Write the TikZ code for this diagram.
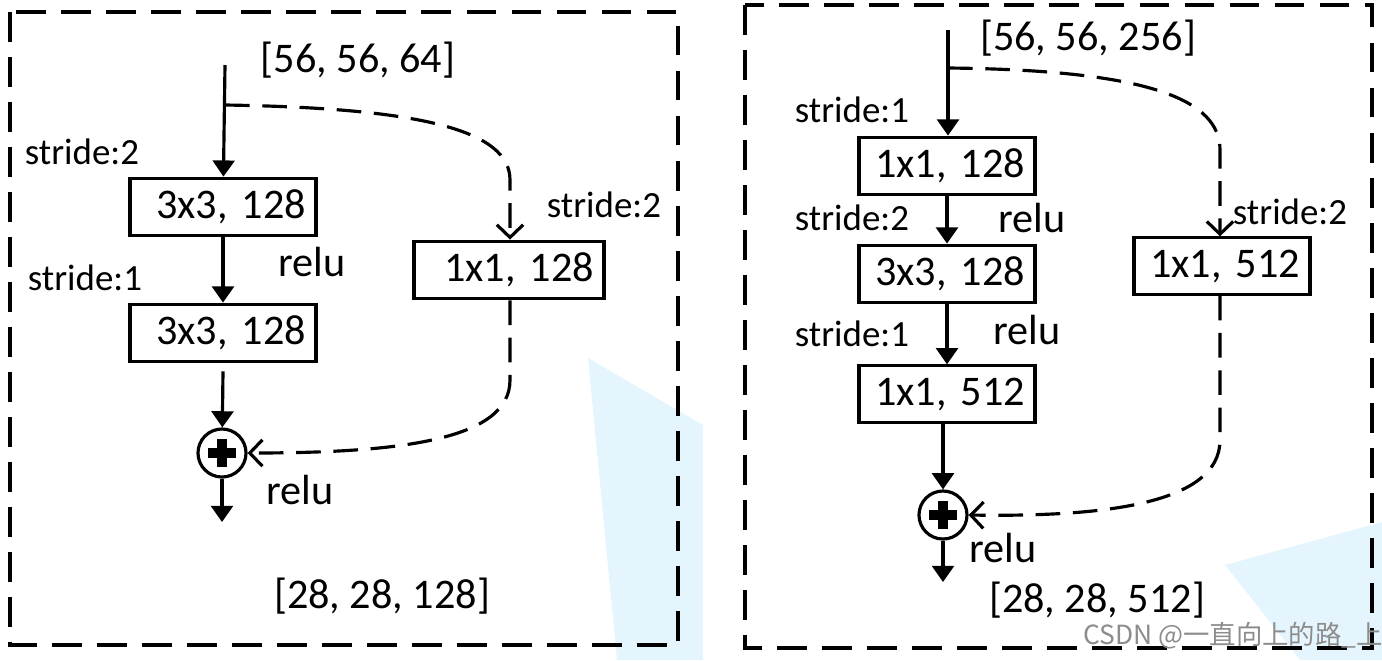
\documentclass[tikz,border=0pt]{standalone}
\usepackage{fontspec}
\setmainfont{Carlito}
\newfontfamily\cjkfont{Noto Sans CJK SC}
\usepackage{tikz}
\usetikzlibrary{arrows.meta,positioning,calc}
\definecolor{wmBlue}{RGB}{229,245,253}
\tikzset{
  layer/.style={rectangle, draw=black, line width=0.9pt, minimum height=5mm, inner xsep=1mm, align=right, font=\fontsize{12}{14}\selectfont},
  lbl/.style={font=\fontsize{12}{14}\selectfont, inner sep=0pt},
  slbl/.style={font=\fontsize{10.5}{12}\selectfont, inner sep=0pt},
  addop/.style={circle, draw=black, line width=0.9pt, minimum size=4.8mm, inner sep=0pt},
  frame/.style={line width=1pt, dash pattern=on 8.5pt off 4.3pt},
  arrow/.style={-{Triangle[length=4.6pt,width=6.2pt]}, line width=0.9pt},
  skip/.style={-{Straight Barb[length=3.6pt,width=7.5pt,line width=0.9pt]}, line width=0.9pt, dash pattern=on 7pt off 3.6pt}
}
\newcommand{\plusmark}[1]{%
  \draw[line width=2.6pt] ($(#1)+(-14,0)$) -- ($(#1)+(14,0)$);
  \draw[line width=2.6pt] ($(#1)+(0,-14)$) -- ($(#1)+(0,14)$);}

\begin{document}
\begin{tikzpicture}[x=0.01cm,y=-0.01cm]
  \useasboundingbox (0,0) rectangle (1382,660);
  % pale background shapes
  \fill[wmBlue] (588,358) -- (703,425) -- (703,660) -- (617,660) -- cycle;
  \fill[wmBlue] (1225,565) -- (1382,522) -- (1382,660) -- (1300,660) -- cycle;

  % left block
  \draw[frame] (10,12) rectangle (678,645);
  \node[lbl] (inL) at (358,60) {[56, 56, 64]};
  \coordinate (topL) at (225,65);
  \coordinate (splitL) at (225,105);
  \node[layer, text width=16.6mm] (convLa) at (223,207) {3x3, 128};
  \node[layer, text width=16.6mm, minimum height=5.3mm] (convLb) at (223,333) {3x3, 128};
  \node[layer, text width=17mm, minimum height=5.5mm] (scLa) at (509,270) {1x1, 128};
  \node[addop] (addL) at (222,453) {};
  \plusmark{addL.center}
  \coordinate (outL) at (222,522);
  \node[slbl] (sLa) at (82,152) {stride:2};
  \node[slbl] (sLb) at (85,278) {stride:1};
  \node[slbl] (sLc) at (604,205) {stride:2};
  \node[lbl] (rLa) at (312,262) {relu};
  \node[lbl] (rLb) at (300,490) {relu};
  \node[lbl] (outtxtL) at (382,596) {[28, 28, 128]};
  \draw[arrow] (topL) -- (convLa);
  \draw[arrow] (convLa) -- (convLb);
  \draw[arrow] (convLb.south) ++(0,8) -- (addL);
  \draw[arrow] (addL) -- (outL);
  \draw[skip] (splitL) .. controls (420,108) and (510,130) .. (510,180) -- (scLa.north -| 510,0);
  \draw[skip] (scLa.south -| 510,0) -- (510,380) .. controls (510,440) and (400,453) .. (addL.east);

  % right block
  \draw[frame] (745,5) rectangle (1372,648);
  \node[lbl] (inR) at (1088,38) {[56, 56, 256]};
  \coordinate (topR) at (948,30);
  \coordinate (splitR) at (948,68);
  \node[layer, text width=15.6mm, minimum height=5.2mm] (convRa) at (947,166) {1x1, 128};
  \node[layer, text width=15.6mm, minimum height=5.2mm] (convRb) at (947,274) {3x3, 128};
  \node[layer, text width=15.6mm, minimum height=5.2mm] (convRc) at (947,394) {1x1, 512};
  \node[layer, text width=15.6mm, minimum height=5.2mm] (scRa) at (1222,266) {1x1, 512};
  \node[addop] (addR) at (943,515) {};
  \plusmark{addR.center}
  \coordinate (outR) at (943,582);
  \node[slbl] (sRa) at (852,110) {stride:1};
  \node[slbl] (sRb) at (852,218) {stride:2};
  \node[slbl] (sRc) at (852,334) {stride:1};
  \node[slbl] (sRd) at (1290,212) {stride:2};
  \node[lbl] (rRa) at (1032,218) {relu};
  \node[lbl] (rRb) at (1027,330) {relu};
  \node[lbl] (rRc) at (1003,548) {relu};
  \node[lbl] (outtxtR) at (1097,600) {[28, 28, 512]};
  \draw[arrow] (topR) -- (convRa.north -| topR);
  \draw[arrow] (convRa) -- (convRb);
  \draw[arrow] (convRb) -- (convRc);
  \draw[arrow] (convRc.south -| addR) -- (addR);
  \draw[arrow] (addR) -- (outR);
  \draw[skip] (splitR) .. controls (1150,70) and (1220,100) .. (1220,150) -- (scRa.north -| 1220,0);
  \draw[skip] (scRa.south -| 1220,0) -- (1220,440) .. controls (1220,505) and (1100,517) .. (addR.east);

  % watermark
  \node[font=\cjkfont\fontsize{7.5}{9}\selectfont, text=black!45, inner sep=0pt] (wm) at (1233,636) {CSDN @一直向上的路\_上};
\end{tikzpicture}
\end{document}
